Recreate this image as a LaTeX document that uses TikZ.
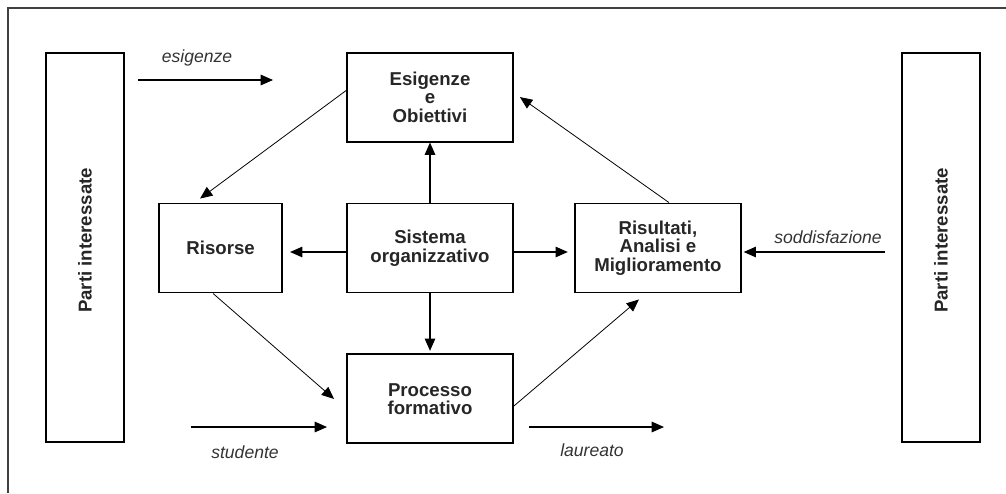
\documentclass[tikz,border=0pt]{standalone}
\usepackage{fontspec}
\setmainfont{Liberation Sans}
\usepackage{tikz}
\usetikzlibrary{positioning, arrows.meta}
\tikzstyle{block} = [rectangle, draw=black, line width=1.1pt, minimum width=3.32cm, minimum height=1.78cm, align=center, inner sep=2pt, text=black!85, font=\bfseries\fontsize{10.6}{10.5}\selectfont]
\tikzstyle{side} = [block, minimum width=7.78cm, minimum height=1.56cm]
\tikzstyle{arrow} = [line width=0.6pt, -{Triangle[length=7pt,width=6pt]}]
\tikzstyle{thinarrow} = [arrow, line width=0.45pt]
\tikzstyle{flow} = [text=black!80, font=\itshape\fontsize{10}{12}\selectfont]

\begin{document}
\begin{tikzpicture}[node distance=1.2cm]
        \useasboundingbox (0,0) rectangle (20.12,-9.86);
        \draw [black!75, line width=0.6pt] (0.16,-9.86) -- (0.16,-0.16) -- (20.12,-0.16);
        % boxes
        \node (sys) [block] at (8.6,-4.96) {Sistema\\organizzativo};
        \node (esig) [block, above=of sys] {Esigenze\\e\\Obiettivi};
        \node (proc) [block, below=of sys] {Processo\\formativo};
        \node (ris) [block, minimum width=2.46cm, left=1.26cm of sys] {Risorse};
        \node (risul) [block, right=of sys] {Risultati,\\Analisi e\\Miglioramento};
        \node (pleft) [side, rotate=90] at (1.7,-4.95) {\hspace*{0.28cm}Parti interessate};
        \node (pright) [side, rotate=90] at (18.82,-4.95) {\hspace*{0.28cm}Parti interessate};
        % free ends
        \coordinate (esigA) at (2.76,-1.6);
        \coordinate (esigB) at (5.46,-1.6);
        \coordinate (studA) at (3.82,-8.54);
        \coordinate (studB) at (6.54,-8.54);
        \coordinate (laurA) at (10.58,-8.54);
        \coordinate (laurB) at (13.28,-8.54);
        \coordinate (sodd) at (17.7,-5.04);
        % labels
        \node (lesig) [flow] at (3.94,-1.16) {esigenze};
        \node (lstud) [flow] at (4.9,-9.04) {studente};
        \node (llaur) [flow] at (11.84,-9.0) {laureato};
        \node (lsodd) [flow] at (16.56,-4.74) {soddisfazione};
        % connectors
        \draw [arrow] (esigA) -- (esigB);
        \draw [arrow] (studA) -- (studB);
        \draw [arrow] (laurA) -- (laurB);
        \draw [arrow, shorten >=1pt] (sodd) -- (risul.east |- sodd);
        \draw [arrow] (sys.north) -- (esig.south);
        \draw [arrow, shorten >=1.5pt] (sys.south) -- (proc.north);
        \draw [arrow, shorten >=4pt] ([yshift=-0.08cm]sys.west) -- ([yshift=-0.08cm]ris.east);
        \draw [arrow, shorten >=3.5pt] ([yshift=-0.08cm]sys.east) -- ([yshift=-0.08cm]risul.west);
        \draw [thinarrow] ([yshift=0.13cm]esig.west) -- ([xshift=-0.41cm,yshift=0.08cm]ris.north);
        \draw [thinarrow] ([xshift=-0.15cm]ris.south) -- ([xshift=-0.24cm]proc.west);
        \draw [thinarrow] ([yshift=-0.14cm]proc.east) -- ([xshift=-0.38cm,yshift=-0.12cm]risul.south);
        \draw [thinarrow] ([xshift=0.22cm]risul.north) -- ([xshift=0.12cm]esig.east);
    \end{tikzpicture}
\end{document}
